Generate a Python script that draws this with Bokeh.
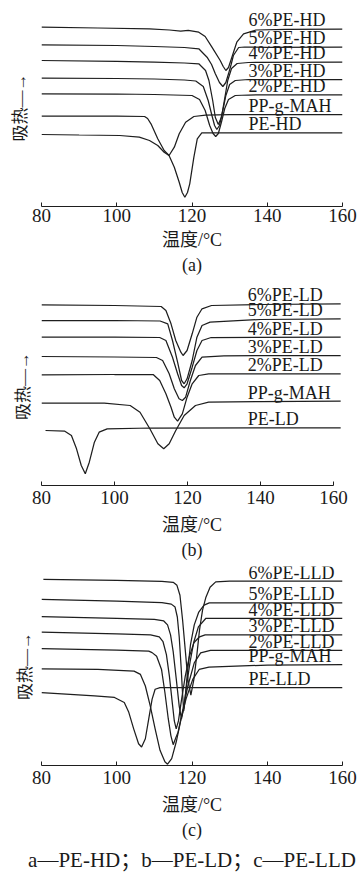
import math
from bokeh.plotting import figure
from bokeh.models import Range1d, FixedTicker, Title, Label
from bokeh.layouts import column
from bokeh.embed import file_html
from bokeh.resources import INLINE

# ---------------- data (temperature in degC, heat flow in arbitrary units) ----------------
TICKS = [80, 100, 120, 140, 160]

# panel (a) PE-HD blends
hd6_T = [80, 95, 108.7, 114, 117, 119, 121.8, 123.5, 125.3, 127.5, 128.3, 129, 129.7, 130.6, 131.9, 133.7, 137, 145, 160]
hd6_q = [179.3, 178.5, 177.7, 176.5, 175.3, 176.2, 174.3, 170, 159.3, 146, 140, 136, 139, 149.3, 164.3, 172.7, 176.5, 177.2, 177.3]
hd5_T = [80, 100, 110, 118, 121.8, 124, 125.2, 126.2, 127.3, 128.2, 129, 129.7, 130.4, 131, 132.4, 134, 140, 160]
hd5_q = [161.7, 161, 160, 159, 157.7, 149.3, 142, 132.7, 124, 120, 124, 132.7, 142, 151, 159, 159.5, 159.2, 159.3]
hd4_T = [80, 100, 110, 118, 121.8, 123.6, 124.5, 125.5, 126.2, 127, 127.8, 128.6, 129.5, 130.5, 132, 135, 160]
hd4_q = [146, 145.2, 144.3, 143.5, 142.7, 136, 126, 106, 89, 82, 89, 106, 126, 138, 143, 144, 144.3]
hd3_T = [80, 100, 110, 118, 121, 123, 124.3, 125.3, 126, 126.6, 127.3, 128.2, 129, 130, 131.5, 135, 160]
hd3_q = [128.3, 128, 127.5, 126.5, 125.5, 120, 106, 91, 81, 77, 81, 96, 111, 122, 126, 127, 127]
hd2_T = [80, 100, 110, 120, 122, 123.5, 124.7, 125.6, 126.3, 127, 127.8, 128.7, 129.7, 131.5, 135, 160]
hd2_q = [112.7, 112.5, 112, 111, 107, 96, 81, 73, 70, 73, 84, 98, 107, 111, 111.5, 111.7]
hdmah_T = [80, 100, 107.4, 108.2, 109.1, 110.9, 112.6, 113.9, 115.3, 116.6, 118.3, 120.5, 123.6, 130, 160]
hdmah_q = [90.3, 90.3, 90, 88, 82.7, 67.7, 56, 51, 59.3, 72.7, 84.3, 90, 91.3, 91.8, 92]
hd0_T = [80, 90, 100.8, 106, 108.7, 110.9, 112.6, 113.9, 115.3, 116.6, 117.4, 118.1, 118.8, 119.4, 120.5, 121.4, 122.6, 130, 160]
hd0_q = [72, 71.5, 71, 69.3, 66, 61, 54.3, 51, 39.3, 24.3, 14, 9.3, 14, 22.7, 49.3, 67.7, 73.7, 73.7, 73.7]

# panel (b) PE-LD blends
ld6_T = [80, 100, 112.8, 114.1, 115.5, 116.8, 118.2, 118.8, 119.9, 121.3, 122.6, 124, 126.6, 140, 162]
ld6_q = [180.7, 180, 179, 175, 161.7, 145, 133.3, 130, 135, 151.7, 168.3, 176.7, 180, 181, 181.7]
ld5_T = [80, 100, 112.5, 114.6, 115.9, 117.3, 118.4, 119.1, 119.9, 121.3, 122.6, 124, 126.2, 140, 162]
ld5_q = [165, 165, 164.5, 161.7, 145, 123.3, 105, 101.7, 106.7, 125, 148.3, 160, 163.3, 166, 166.7]
ld4_T = [80, 100, 112.4, 114.1, 115.9, 117.3, 118.4, 119.1, 119.9, 121.3, 122.6, 124, 126.5, 162]
ld4_q = [148.3, 148.3, 148, 145, 128.3, 111.7, 100, 97.7, 101.7, 118.3, 135, 145, 148, 148.3]
ld3_T = [80, 100, 111.5, 113.2, 115, 116.4, 117.7, 118.6, 119.5, 120.8, 122.2, 124, 130, 162]
ld3_q = [129, 128.5, 128, 125, 111.7, 96.7, 86.7, 85, 88.3, 105, 120, 128.3, 129.7, 130]
ld2_T = [80, 100, 110.6, 112.4, 114.1, 115.5, 116.4, 117.3, 118.6, 119.9, 121.3, 123.1, 125.8, 162]
ld2_q = [110.7, 111, 111, 105, 91.7, 78.3, 68.3, 64.3, 71.7, 88.3, 101.7, 110, 111.7, 111.7]
ldmah_T = [80, 97.2, 104.3, 107, 109.7, 111.9, 113.5, 115, 116.8, 119.1, 122.2, 125.8, 140, 162]
ldmah_q = [82.3, 82.3, 80, 73.3, 56.7, 41.7, 36.7, 41.7, 55, 70, 80, 83.3, 84, 84.3]
ld0_T = [81.1, 86.4, 88.2, 89.6, 90.9, 92, 93.1, 94.5, 95.8, 98, 110, 162]
ld0_q = [55, 54.3, 50, 36.7, 20, 11.7, 23.3, 43.3, 53.3, 56.7, 57.5, 57.7]

# panel (c) PE-LLD blends
lld6_T = [80.5, 100, 112, 115, 116, 116.8, 117.5, 118.2, 118.9, 119.7, 120.5, 121.3, 122, 122.8, 123.7, 124.8, 126.3, 130, 160]
lld6_q = [188, 187, 186, 185, 182, 172, 147, 117, 87, 71, 87, 112, 137, 157, 170, 180, 185.5, 186.3, 186.3]
lld5_T = [80, 100, 112, 114.5, 115.5, 116.1, 116.6, 117.1, 117.5, 117.8, 118.2, 118.8, 119.6, 120.6, 121.8, 123.2, 124.6, 140, 160]
lld5_q = [167.7, 166, 164.5, 163, 160, 150, 130, 100, 72, 55, 68, 95, 122, 142, 155, 162, 164.3, 164.3, 164.3]
lld4_T = [80, 100, 110, 112.5, 113.5, 114.3, 115, 115.8, 116.6, 117.2, 117.8, 118.6, 119.5, 120.5, 121.7, 123.7, 140, 160]
lld4_q = [150.3, 148.5, 147.5, 146, 142, 132, 115, 88, 60, 47, 58, 82, 105, 125, 140, 148.7, 148.7, 148.7]
lld3_T = [80, 100, 109, 111.3, 112.3, 113.2, 114, 114.8, 115.3, 115.8, 116.4, 117.2, 118.2, 119.3, 120.5, 122, 123.5, 160]
lld3_q = [134.7, 133, 132, 130, 125, 112, 90, 62, 45, 37, 45, 66, 90, 110, 124, 130, 132, 132]
lld2_T = [80, 100, 108.5, 109.4, 110.6, 111.9, 112.8, 113.7, 114.4, 115, 115.7, 116.3, 117.6, 118.9, 120.6, 122.3, 124.9, 160]
lld2_q = [118, 116.5, 115.5, 114, 110.3, 97, 73.7, 47, 30, 21, 28, 33.7, 57, 80.3, 103.7, 113.7, 116.3, 116.3]
lldmah_T = [80, 95, 104.6, 106.3, 107.6, 108.9, 110.2, 111.5, 112.8, 113.5, 114.6, 115.8, 117.1, 118.4, 120.2, 121.9, 124.5, 140, 160]
lldmah_q = [97.7, 97, 95.3, 92, 80.3, 60.3, 37, 15.3, 3.7, 1.3, 7, 23.7, 47, 67, 87, 97, 99.3, 101.5, 102]
lld0_T = [80, 94.1, 99.4, 102, 103.2, 104.5, 105.8, 106.6, 107.6, 108.5, 109.4, 110.2, 111.5, 160]
lld0_q = [73.7, 70.3, 68.7, 63.7, 53.7, 37, 22, 18.7, 27, 47, 67, 77, 78.7, 78.7]

names_a = ["6%PE-HD", "5%PE-HD", "4%PE-HD", "3%PE-HD", "2%PE-HD", "PP-g-MAH", "PE-HD"]
names_b = ["6%PE-LD", "5%PE-LD", "4%PE-LD", "3%PE-LD", "2%PE-LD", "PP-g-MAH", "PE-LD"]
names_c = ["6%PE-LLD", "5%PE-LLD", "4%PE-LLD", "3%PE-LLD", "2%PE-LLD", "PP-g-MAH", "PE-LLD"]

curves_a = [(hd6_T, hd6_q), (hd5_T, hd5_q), (hd4_T, hd4_q), (hd3_T, hd3_q), (hd2_T, hd2_q), (hdmah_T, hdmah_q), (hd0_T, hd0_q)]
curves_b = [(ld6_T, ld6_q), (ld5_T, ld5_q), (ld4_T, ld4_q), (ld3_T, ld3_q), (ld2_T, ld2_q), (ldmah_T, ldmah_q), (ld0_T, ld0_q)]
curves_c = [(lld6_T, lld6_q), (lld5_T, lld5_q), (lld4_T, lld4_q), (lld3_T, lld3_q), (lld2_T, lld2_q), (lldmah_T, lldmah_q), (lld0_T, lld0_q)]

XLABEL = "温度/°C"
YLABEL = "吸热—→"
CAPTION = "a—PE-HD；b—PE-LD；c—PE-LLD"

# ---------------- styling ----------------
LINE = "#1e1e1e"
TXT = "#1a1a1a"
SERIF = "Liberation Serif, Noto Sans CJK SC"


def panel(curves, names, tag, xr, yr, width, height, mbl, mbr, mbt, mbb,
          label_x, label_dy, ybounds, ystand, tick_sd, xlab_sd, tag_sd,
          caption=None, cap_sd=0):
    p = figure(width=width, height=height, x_range=Range1d(*xr), y_range=Range1d(*yr),
               output_backend="svg", toolbar_location=None,
               min_border_left=mbl, min_border_right=mbr, min_border_top=mbt,
               min_border_bottom=mbb)
    p.outline_line_color = None
    p.grid.grid_line_color = None
    p.background_fill_color = "white"
    p.border_fill_color = "white"
    for (T, q), name in zip(curves, names):
        p.line(T, q, line_color=LINE, line_width=1.25)
        p.add_layout(Label(x=label_x, y=q[-1] + label_dy, text=name, text_font=SERIF,
                           text_font_size="18px", text_color=TXT,
                           text_align="left", text_baseline="middle"))
    # y axis: only its title ("吸热→"), no ticks or numbers
    ya = p.yaxis[0]
    ya.ticker = FixedTicker(ticks=[])
    ya.bounds = ybounds
    ya.axis_line_color = None
    ya.major_tick_line_color = None
    ya.minor_tick_line_color = None
    ya.major_tick_in = 0
    ya.major_tick_out = 0
    ya.major_label_standoff = 0
    ya.axis_label = YLABEL
    ya.axis_label_text_font = SERIF
    ya.axis_label_text_font_size = "17px"
    ya.axis_label_text_font_style = "normal"
    ya.axis_label_text_color = TXT
    ya.axis_label_standoff = ystand

    ax = p.xaxis[0]
    ax.ticker = FixedTicker(ticks=TICKS)
    ax.bounds = (80, 160)
    ax.axis_line_color = LINE
    ax.axis_line_width = 1
    ax.major_tick_in = 4
    ax.major_tick_out = 0
    ax.major_tick_line_color = LINE
    ax.minor_tick_line_color = None
    ax.major_label_text_font = SERIF
    ax.major_label_text_font_size = "19px"
    ax.major_label_text_color = TXT
    ax.major_label_standoff = tick_sd
    ax.axis_label = XLABEL
    ax.axis_label_text_font = SERIF
    ax.axis_label_text_font_size = "18px"
    ax.axis_label_text_font_style = "normal"
    ax.axis_label_text_color = TXT
    ax.axis_label_standoff = xlab_sd
    p.add_layout(Title(text=tag, align="center", text_font=SERIF, text_font_size="18px",
                       text_font_style="normal", text_color=TXT, standoff=tag_sd), "below")
    if caption:
        p.add_layout(Title(text=caption, align="center", text_font=SERIF,
                           text_font_size="21px", text_font_style="normal",
                           text_color=TXT, standoff=cap_sd), "below")
    return p


pa = panel(curves_a, names_a, "(a)", (80, 160), (0, 198), 360, 278, 41, 15, 8, 72,
           135.0, 9, (6, 198), 12, 2, 5, 0)
pb = panel(curves_b, names_b, "(b)", (80, 162.5), (0, 199), 360, 282, 36, 16, 8, 75,
           136.5, 8.5, (0, 198), 9, 5, 8, 1)
pc = panel(curves_c, names_c, "(c)", (80, 160), (0, 201), 360, 317, 36, 18, 6, 110,
           135.0, 8.5, (13, 201), 7, 5, 8, 1, caption=CAPTION, cap_sd=11)

layout = column(pa, pb, pc, spacing=0)
open("out.html", "w").write(file_html(layout, INLINE))
